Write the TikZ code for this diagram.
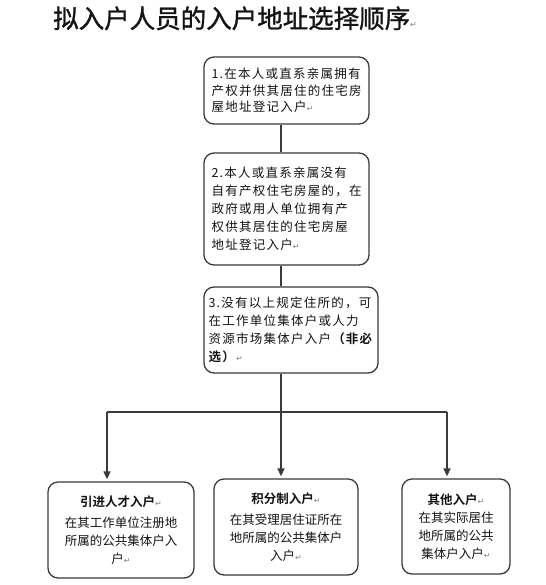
\documentclass[tikz,border=0pt]{standalone}
\usepackage{fontspec}
\setmainfont{Noto Sans CJK SC}[BoldFont={Noto Sans CJK SC Bold}]
\newfontfamily\cjksp{Noto Sans CJK SC}[LetterSpace=10,BoldFont={Noto Sans CJK SC Bold}]
\newfontfamily\titlefont{Noto Sans CJK SC}[FakeBold=1.2]
\newfontfamily\symfont{DejaVu Sans}
\usetikzlibrary{arrows.meta}
\definecolor{linec}{HTML}{3A3A3A}
\definecolor{txt}{HTML}{141414}
\newcommand\parmark{{\symfont\fontsize{8}{8}\selectfont\textcolor{gray}{↵}}}
\begin{document}
\begin{tikzpicture}[x=1pt,y=-1pt,
  box/.style={draw=linec, line width=1.3pt, rounded corners=10pt, inner sep=0pt, text=txt},
  upper/.style={box, align=left, font=\cjksp\fontsize{12.5}{18}\selectfont},
  lower/.style={box, align=center, font=\fontsize{12.5}{18}\selectfont},
  link/.style={draw=linec, line width=1.5pt},
  arr/.style={link, -{Triangle[width=7pt,length=8pt]}, shorten >=2pt}]
\fill[white] (0,0) rectangle (545,585);
\useasboundingbox (0,0) rectangle (545,585);
\node[anchor=base west, font=\titlefont\fontsize{25.5}{25.5}\selectfont, inner sep=0pt, text=txt] (title) at (53,28) {拟入户人员的入户地址选择顺序\parmark};

\node[upper, minimum width=165pt, minimum height=67pt, font=\cjksp\fontsize{12.5}{16.5}\selectfont] (b1) at (286.5,90.5)
  {1.在本人或直系亲属拥有\\产权并供其居住的住宅房\\屋地址登记入户\parmark};
\node[upper, minimum width=165pt, minimum height=112pt] (b2) at (286.5,209)
  {2.本人或直系亲属没有\\自有产权住宅房屋的，在\\政府或用人单位拥有产\\权供其居住的住宅房屋\\地址登记入户\parmark};
\node[upper, minimum width=174pt, minimum height=86pt] (b3) at (291,330)
  {3.没有以上规定住所的，可\\在工作单位集体户或人力\\资源市场集体户入户\textbf{（非必}\\\textbf{选）}\parmark};

\node[lower, minimum width=146pt, minimum height=96pt] (ba) at (121,530)
  {\textbf{引进人才入户}\parmark\\[3pt]在其工作单位注册地\\所属的公共集体户入\\户\parmark};
\node[lower, minimum width=144pt, minimum height=96pt] (bb) at (286,527)
  {\textbf{积分制入户}\parmark\\[3pt]在其受理居住证所在\\地所属的公共集体户\\入户\parmark};
\node[lower, minimum width=108pt, minimum height=95pt] (bc) at (456,526.5)
  {\textbf{其他入户}\parmark\\在其实际居住\\地所属的公共\\集体户入户\parmark};

\coordinate (j) at (281,412);
\coordinate (jl) at (107,412);
\coordinate (jr) at (447,412);
\draw[link] (b1.south -| j) -- (b2.north -| j);
\draw[link] (b2.south -| j) -- (b3.north -| j);
\draw[link] (b3.south -| j) -- (j);
\draw[link] (jl) -- (jr);
\draw[arr] (j) -- (j |- bb.north);
\draw[arr] (jl) -- (jl |- ba.north);
\draw[arr] (jr) -- (jr |- bc.north);
\end{tikzpicture}
\end{document}
